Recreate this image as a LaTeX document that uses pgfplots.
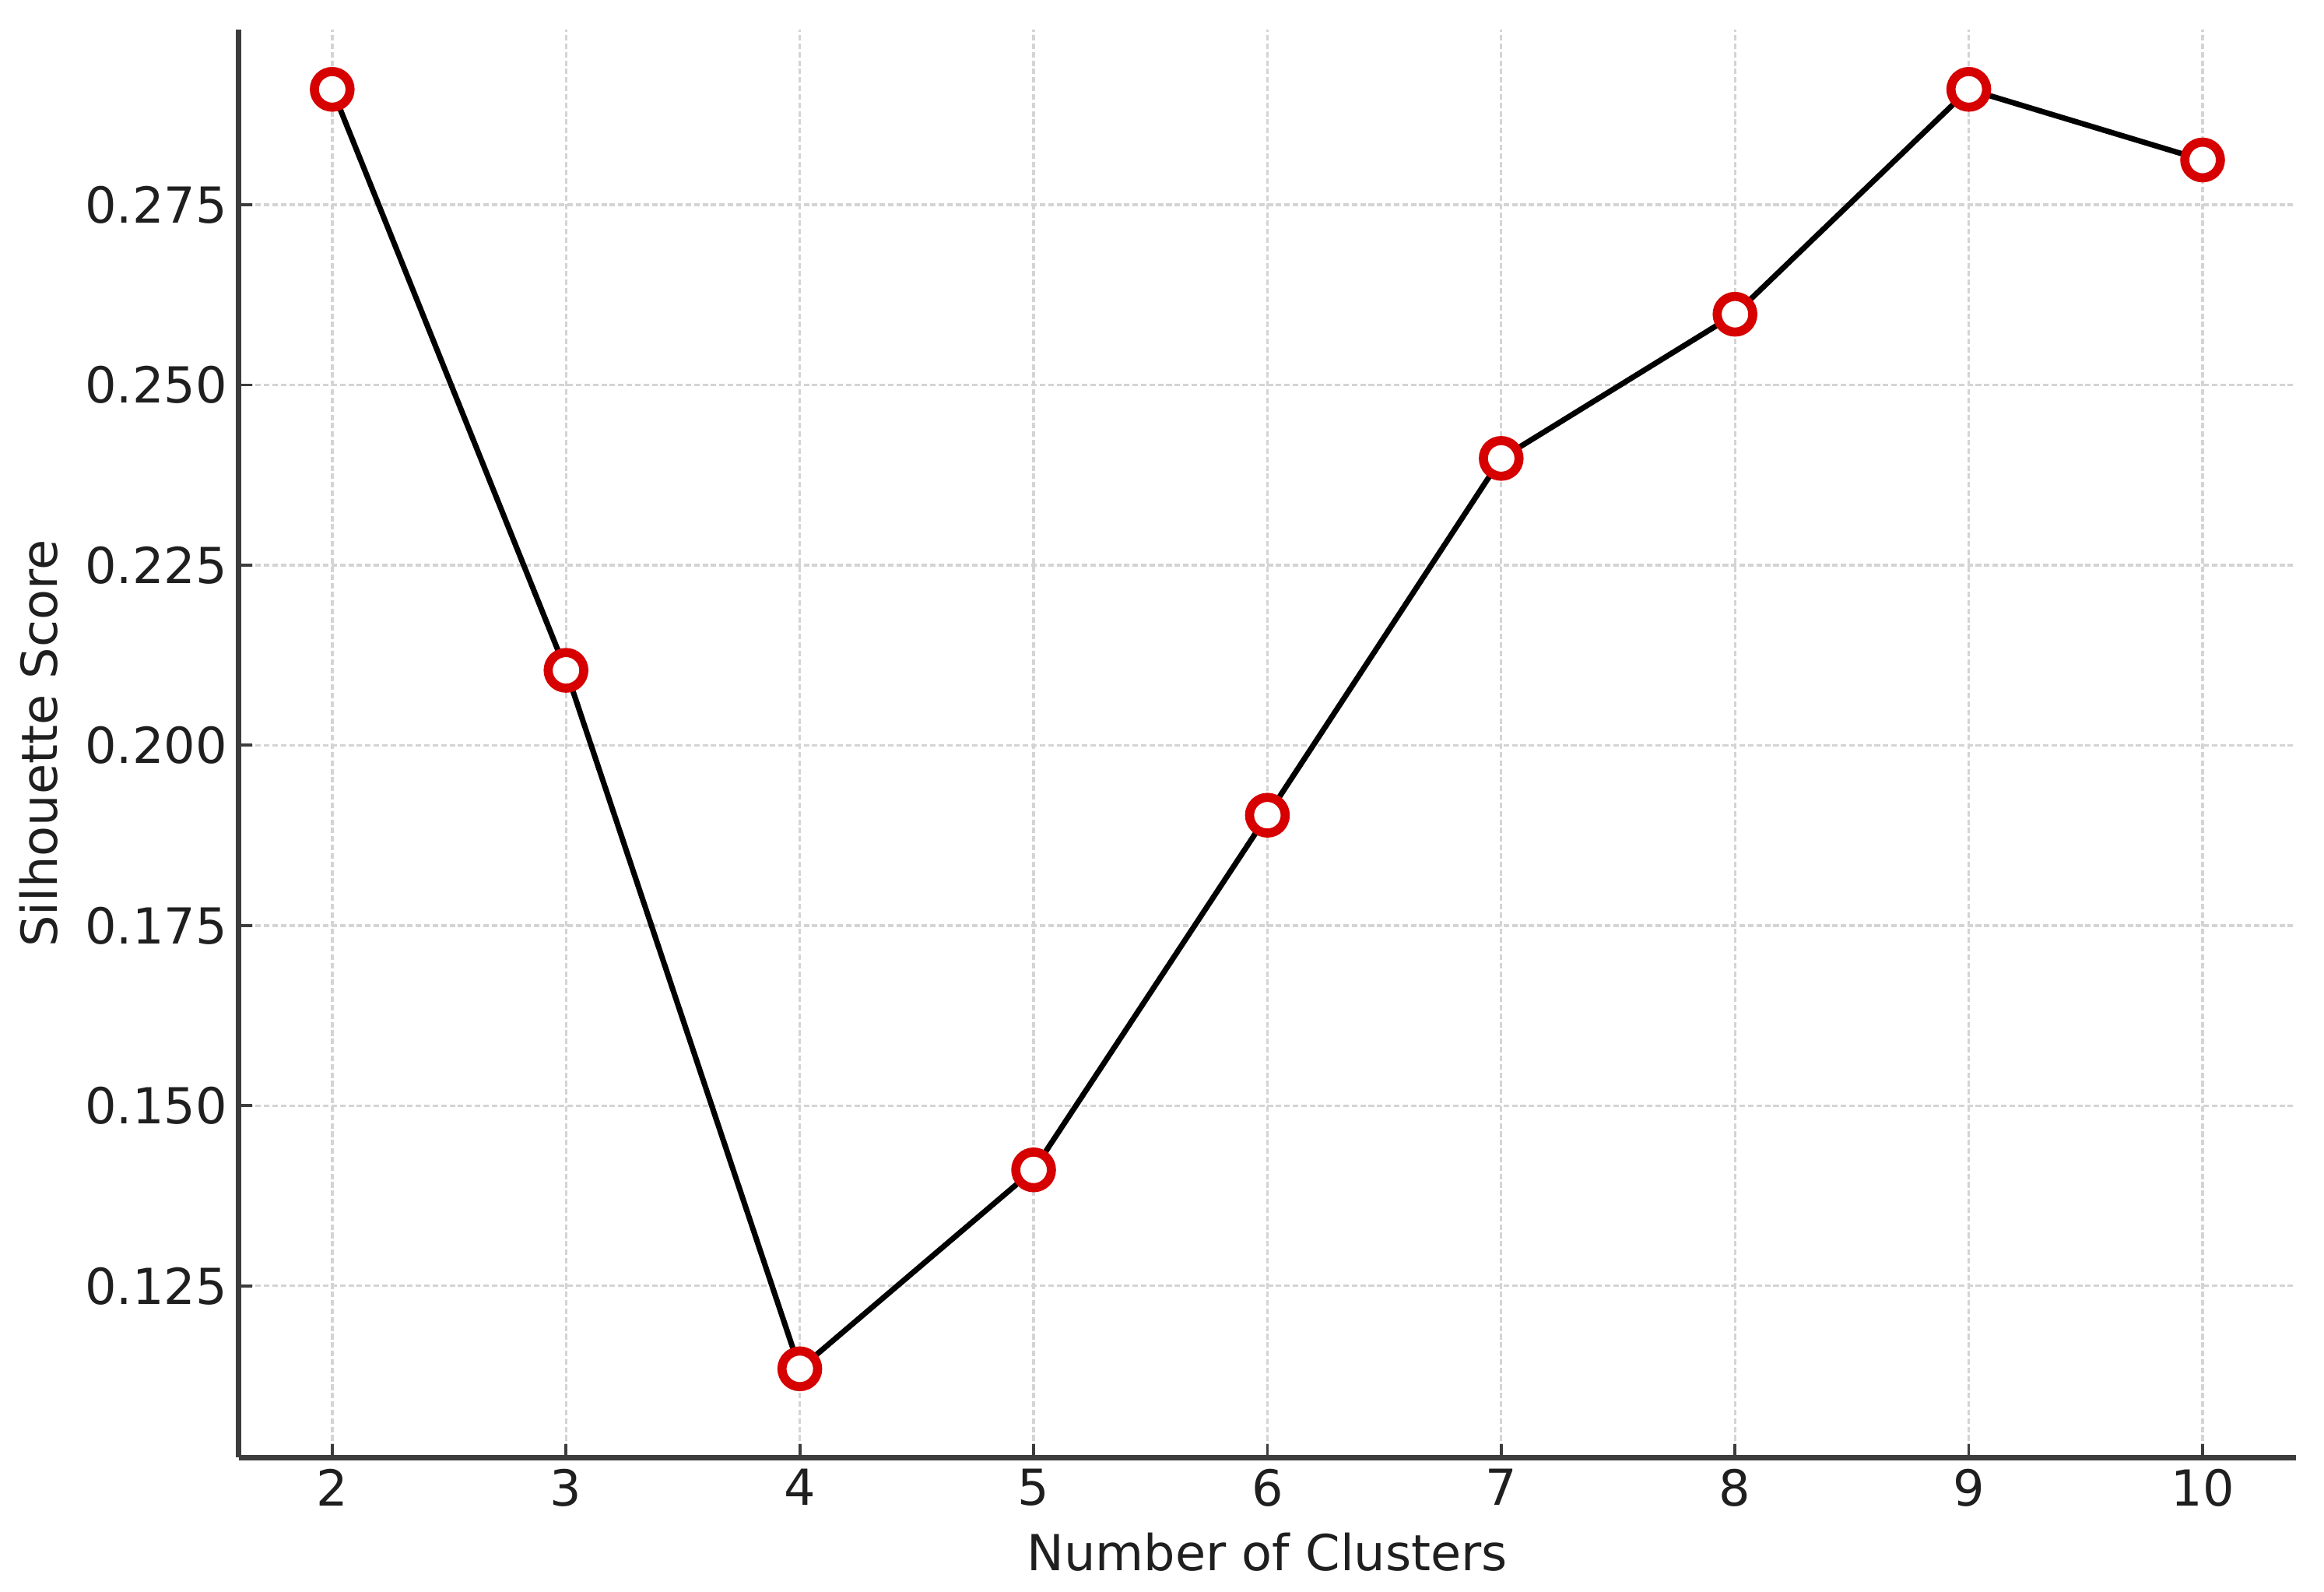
\documentclass[border=0pt]{standalone}
\usepackage{fontspec}
\setmainfont{DejaVu Sans}
\usepackage{pgfplots}
\pgfplotsset{compat=1.18}

\definecolor{spine}{HTML}{3C3C3C}
\definecolor{mkred}{HTML}{D60000}
\definecolor{gridc}{HTML}{D4D4D4}

\begin{document}
\begin{tikzpicture}

\begin{axis}[
name=ax,
scale only axis=true,
width=634.4pt,
height=440.2pt,
xmin=1.6, xmax=10.4,
ymin=0.1012, ymax=0.2993,
axis x line*=bottom,
axis y line*=left,
axis line style={line width=1.6pt, color=spine},
tick align=inside,
major tick length=4.2pt,
tick style={line width=0.9pt, color=spine},
xtick={2,3,4,5,6,7,8,9,10},
ytick={0.125,0.150,0.175,0.200,0.225,0.250,0.275},
yticklabel style={/pgf/number format/.cd, fixed, fixed zerofill, precision=3},
/pgf/number format/assume math mode=true,
ticklabel style={font=\fontsize{15.3}{18}\selectfont, text=black!88},
label style={font=\fontsize{15.3}{18}\selectfont, text=black!88},
xlabel style={yshift=-1.2pt},
ylabel style={yshift=1.5pt},
scaled ticks=false,
grid=major,
grid style={dash pattern=on 1.7pt off 0.9pt, line width=0.8pt, color=gridc},
xlabel={Number of Clusters},
ylabel={Silhouette Score},
clip=false,
]

\addplot[line width=1.7pt, black, mark=*, mark size=5.5pt,
  mark options={draw=mkred, fill=white, line width=2.8pt, solid}]
coordinates {
(2,0.2910) (3,0.2104) (4,0.1135) (5,0.1411) (6,0.1903)
(7,0.2398) (8,0.2598) (9,0.2910) (10,0.2812)
};

\end{axis}

\pgfresetboundingbox
\path ([xshift=-73.6pt,yshift=-41.3pt]ax.south west) rectangle ([xshift=8.6pt,yshift=9.1pt]ax.north east);

\end{tikzpicture}
\end{document}
